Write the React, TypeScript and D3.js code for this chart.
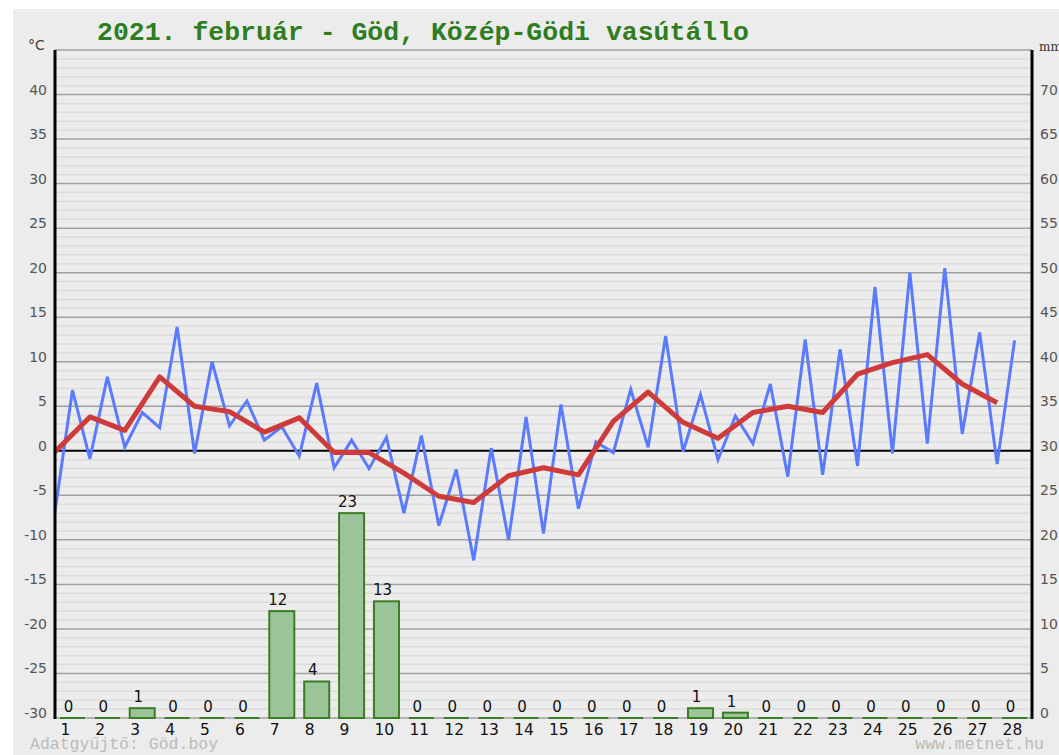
import * as d3 from "d3";

// február napjai
const days = d3.range(1, 29);

// félnapos hőmérsékletek (°C), 0. naptól 27.5-ig
const temps = [
  -6.8, 6.8, -0.9, 8.3, 0.4, 4.3, 2.6, 13.9, -0.3, 10.0, 2.8, 5.6, 1.2, 2.7,
  -0.6, 7.6, -1.9, 1.2, -2.0, 1.5, -7.0, 1.7, -8.4, -2.1, -12.3, 0.3, -10.0,
  3.8, -9.3, 5.2, -6.5, 1.0, -0.2, 6.9, 0.4, 12.9, -0.1, 6.3, -1.0, 3.9, 0.8,
  7.5, -2.9, 12.5, -2.7, 11.4, -1.7, 18.4, -0.3, 20.0, 0.8, 20.5, 1.9, 13.3,
  -1.5, 12.4,
];

// napi középhőmérséklet (°C)
const meanTemps = [
  -0.1, 3.8, 2.3, 8.3, 5.0, 4.4, 2.1, 3.7, -0.2, -0.2, -2.5, -5.1, -5.8, -2.8,
  -1.9, -2.7, 3.3, 6.6, 3.2, 1.4, 4.3, 5.0, 4.3, 8.6, 9.9, 10.8, 7.5, 5.4,
];

// csapadék (mm)
const precip = [
  0, 0, 1.1, 0, 0, 0, 12, 4.1, 23, 13.1, 0, 0, 0, 0, 0, 0, 0, 0, 1.1, 0.6, 0, 0,
  0, 0, 0, 0, 0, 0,
];
const precipLabels = [
  "0", "0", "1", "0", "0", "0", "12", "4", "23", "13", "0", "0", "0", "0", "0",
  "0", "0", "0", "1", "1", "0", "0", "0", "0", "0", "0", "0", "0",
];

const tempTicks = [40, 35, 30, 25, 20, 15, 10, 5, 0, -5, -10, -15, -20, -25, -30];
const mmTicks = [70, 65, 60, 55, 50, 45, 40, 35, 30, 25, 20, 15, 10, 5, 0];

const W = 1059;
const H = 755;
const left = 55;
const right = 1032;
const top = 50;
const bottom = 718;

export default function App() {
  const x = d3.scaleLinear().domain([0, 28]).range([left, right]);
  const y = d3.scaleLinear().domain([-30, 45]).range([bottom, top]);
  const yMm = d3.scaleLinear().domain([0, 75]).range([bottom, top]);

  const tempLine = d3
    .line<number>()
    .x((_, i) => x(i / 2))
    .y((d) => y(d));
  const meanLine = d3
    .line<number>()
    .x((_, i) => x(i))
    .y((d) => y(d));

  const grid = d3.range(-30, 46, 1);
  const barW = 25;
  const mono = "'Courier New', 'Liberation Mono', monospace";
  const sans = "'DejaVu Sans', Verdana, sans-serif";

  return (
    <svg
      width={W}
      height={H}
      style={{ position: "absolute", left: 0, top: 0, background: "#fff" }}
    >
      <rect x={13} y={9} width={W - 13} height={H - 9} fill="#ececec" />

      {grid.map((g) => (
        <line
          key={g}
          x1={left}
          x2={right}
          y1={y(g)}
          y2={y(g)}
          stroke={g === 0 ? "#000" : g % 5 === 0 ? "#a0a0a0" : "#dcdcdc"}
          strokeWidth={g === 0 ? 2 : 1.5}
        />
      ))}

      <text x={97} y={40} fontFamily={mono} fontSize={26.5} fontWeight="bold" fill="#2e7d1e">
        2021. február - Göd, Közép-Gödi vasútállo
      </text>

      <text x={28} y={50} fontFamily={sans} fontSize={14} fill="#444">°C</text>
      <text x={1039} y={51} fontFamily="'DejaVu Serif', serif" fontSize={12} fill="#333">mm</text>

      {tempTicks.map((t) => (
        <text key={t} x={47} y={y(t)} textAnchor="end" fontFamily={sans} fontSize={14} fill="#555">
          {t}
        </text>
      ))}
      {mmTicks.map((t) => (
        <text key={t} x={1040} y={yMm(t)} fontFamily={sans} fontSize={14} fill="#555">
          {t}
        </text>
      ))}

      {precip.map((p, i) => {
        const cx = x(i + 0.5);
        const h = yMm(0) - yMm(p);
        return (
          <g key={i}>
            {p > 0 ? (
              <rect
                x={cx - barW / 2}
                y={yMm(p)}
                width={barW}
                height={h}
                fill="#9cc49b"
                stroke="#3b7d23"
                strokeWidth={2}
              />
            ) : (
              <line x1={cx - barW / 2} x2={cx + barW / 2} y1={bottom} y2={bottom} stroke="#3b7d23" strokeWidth={2} />
            )}
            <text
              x={cx - 4}
              y={yMm(p) - 6}
              textAnchor="middle"
              fontFamily={sans}
              fontSize={15}
              fill="#111"
            >
              {precipLabels[i]}
            </text>
          </g>
        );
      })}

      <path d={tempLine(temps) ?? ""} fill="none" stroke="#5b7bff" strokeWidth={3} strokeLinejoin="miter" />
      <path d={meanLine(meanTemps) ?? ""} fill="none" stroke="#cf3a3a" strokeWidth={5} strokeLinejoin="round" />

      <line x1={left} x2={left} y1={top} y2={bottom + 1} stroke="#000" strokeWidth={3} />
      <line x1={right} x2={right} y1={top} y2={bottom + 1} stroke="#000" strokeWidth={3} />

      {days.map((d) => (
        <text key={d} x={x(d - 0.5) - 12} y={735} fontFamily={sans} fontSize={15.5} fill="#111">
          {d}
        </text>
      ))}

      <text x={30} y={749} fontFamily={mono} fontSize={16.5} fill="#bbb">
        Adatgyűjtő: Göd.boy
      </text>
      <text x={1044} y={749} textAnchor="end" fontFamily={mono} fontSize={16.5} fill="#bbb">
        www.metnet.hu
      </text>
    </svg>
  );
}
